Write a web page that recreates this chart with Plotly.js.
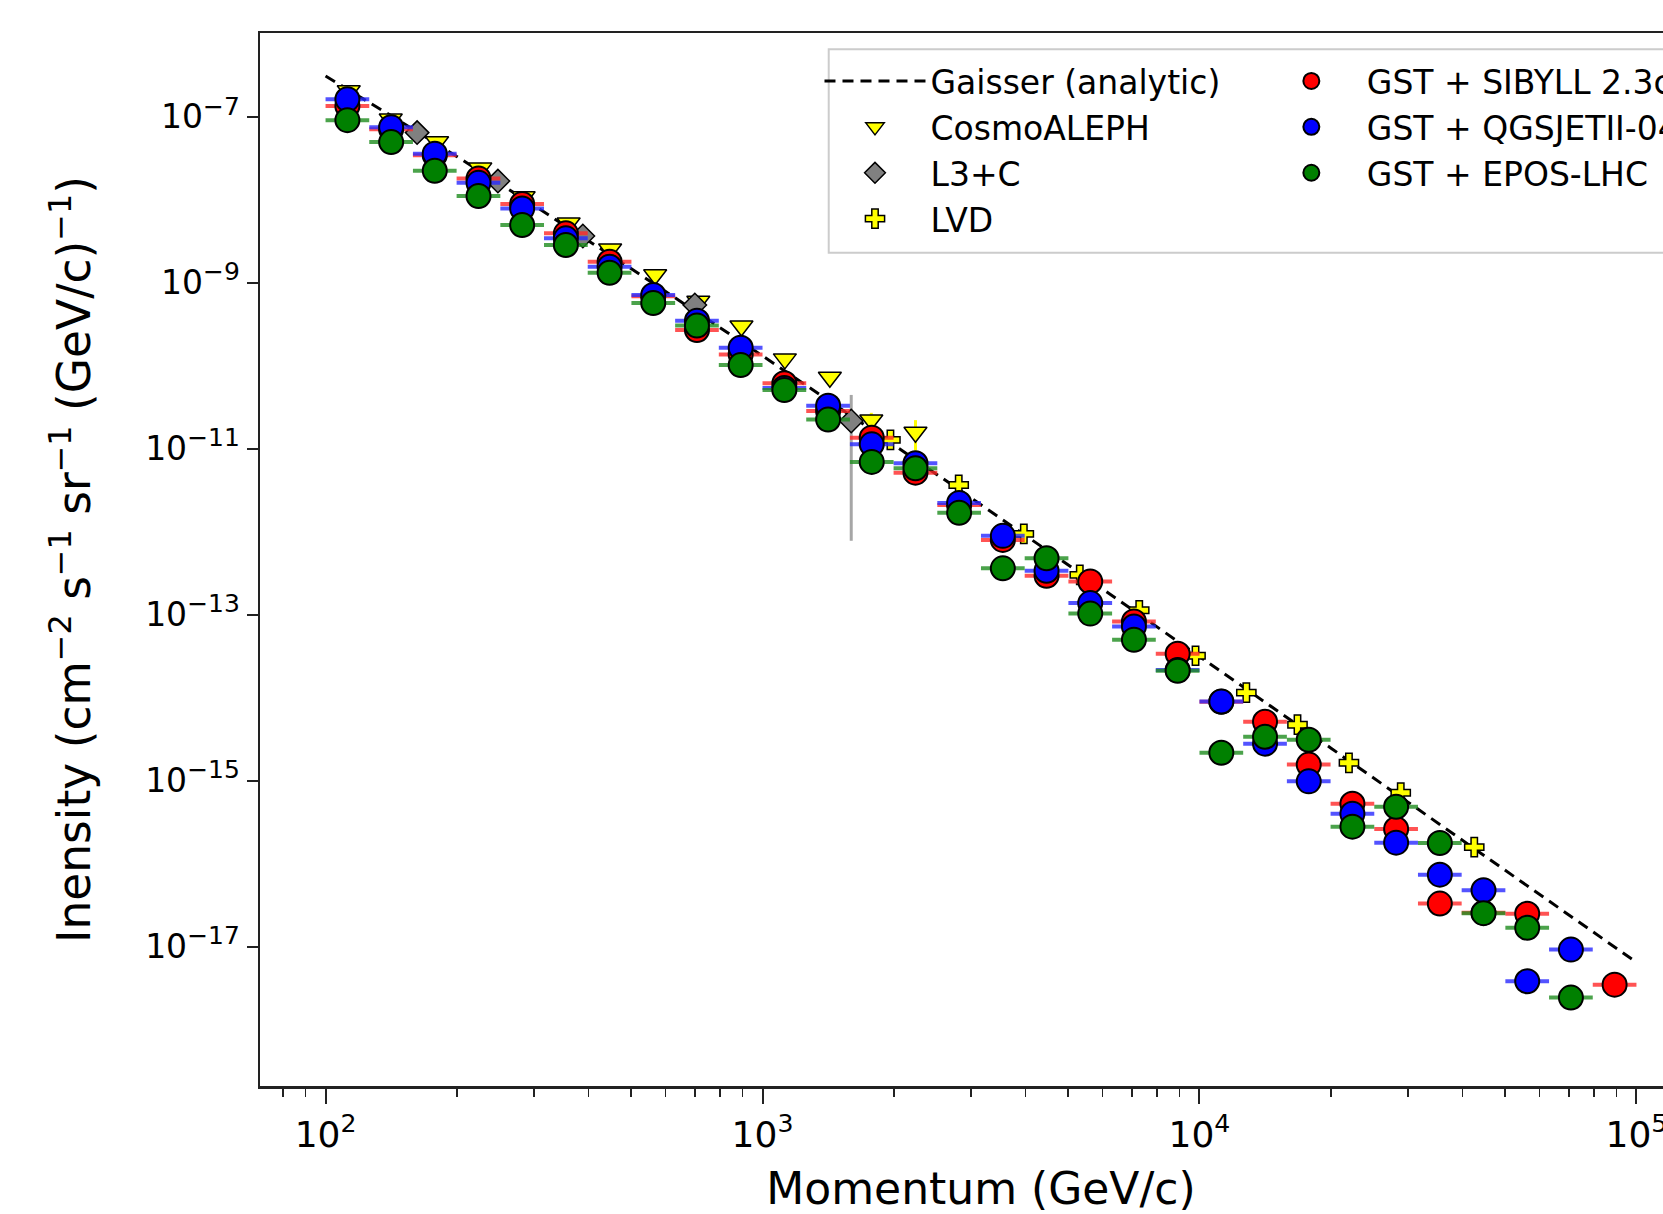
<!DOCTYPE html>
<html>
<head>
<meta charset="utf-8">
<script src="https://cdn.plot.ly/plotly-3.0.1.min.js"></script>
<style>
html,body{margin:0;padding:0;overflow:hidden;background:#ffffff;}
#plot{width:1720px;height:1214px;}
</style>
</head>
<body>
<div id="plot"></div>
<script>
// ---------------- data ----------------
// Gaisser analytic curve
const gaisserP = [100,150,200,300,500,700,1000,1500,2000,3000,5000,7000,10000,15000,20000,30000,50000,70000,100000];
const gaisserI = [3.1e-7,8.5e-8,3.31e-8,8.53e-9,1.485e-9,4.61e-10,1.314e-10,3.11e-11,1.108e-11,2.56e-12,3.99e-13,1.167e-13,3.155e-14,7.10e-15,2.46e-15,5.51e-16,8.37e-17,2.41e-17,6.46e-18];

// CosmoALEPH
const cosmoP = [113,141,180,226,284,360,448,568,713,895,1125,1426,1774,2239];
const cosmoI = [2.06e-7,9.4e-8,5.0e-8,2.41e-8,1.09e-8,5.25e-9,2.55e-9,1.25e-9,6.0e-10,3.01e-10,1.21e-10,7.26e-11,2.22e-11,1.58e-11];
const cosmoRelErr = [0.05,0.05,0.05,0.05,0.05,0.06,0.06,0.07,0.08,0.1,0.12,0.15,0.22,0.4];

// L3+C
const l3cP = [162,248,388,700,1596];
const l3cI = [6.45e-8,1.68e-8,3.66e-9,5.4e-10,2.16e-11];
const l3cRelErrUp = [0.05,0.05,0.06,0.08,1.06];
const l3cRelErrDown = [0.05,0.05,0.06,0.08,0.964];

// LVD
const lvdP = [1962,2812,3963,5322,7280,9794,12800,16760,21980,28880,42540];
const lvdI = [1.28e-11,3.66e-12,9.42e-13,3.02e-13,1.13e-13,3.2e-14,1.15e-14,4.72e-15,1.64e-15,7.16e-16,1.58e-16];
const lvdRelErr = [0.04,0.04,0.05,0.05,0.06,0.06,0.07,0.08,0.1,0.12,0.15];

// GST simulations: momentum bins
const gstBinEdges = [100,125.9,158.5,199.5,251.2,316.2,398.1,501.2,631.0,794.3,1000,1259,1585,1995,2512,3162,3981,5012,6310,7943,10000,12589,15849,19953,25119,31623,39811,50119,63096,79433,100000];
const gstP = [112.2,141.3,177.8,223.9,281.8,354.8,446.7,562.3,707.9,891.3,1122,1413,1778,2239,2818,3548,4467,5623,7079,8913,11220,14125,17783,22387,28184,35481,44668,56234,70795,89125];
const sibyllI = [1.35e-7,7.1e-8,3.45e-8,1.81e-8,8.89e-9,3.94e-9,1.79e-9,6.9e-10,2.70e-10,1.37e-10,6.15e-11,2.85e-11,1.36e-11,5.15e-12,2.1e-12,7.97e-13,2.94e-13,2.51e-13,8.28e-14,3.38e-14,8.9e-15,5.13e-15,1.56e-15,5.27e-16,2.62e-16,3.30e-17,2.55e-17,2.49e-17,null,3.48e-18];
const qgsjetI = [1.63e-7,7.5e-8,3.6e-8,1.60e-8,7.84e-9,3.43e-9,1.56e-9,7.12e-10,3.49e-10,1.65e-10,5.4e-11,3.30e-11,1.13e-11,6.70e-12,2.22e-12,8.91e-13,3.38e-13,1.38e-13,7.21e-14,2.15e-14,9.0e-15,2.79e-15,9.8e-16,4.0e-16,1.79e-16,7.36e-17,4.77e-17,3.82e-18,9.2e-18,null];
const eposI = [9.12e-8,4.96e-8,2.24e-8,1.11e-8,4.97e-9,2.85e-9,1.32e-9,5.70e-10,3.05e-10,1.02e-10,5.11e-11,2.25e-11,6.94e-12,5.82e-12,1.69e-12,3.62e-13,4.78e-13,1.03e-13,4.98e-14,2.11e-14,2.17e-15,3.38e-15,3.11e-15,2.79e-16,4.85e-16,1.77e-16,2.53e-17,1.69e-17,2.43e-18,null];

// tick labels
const xTickVals = [100,1000,10000,100000];
const xTickText = ['10<sup>2</sup>','10<sup>3</sup>','10<sup>4</sup>','10<sup>5</sup>'];
const xMinorVals = [80,90,200,300,400,500,600,700,800,900,2000,3000,4000,5000,6000,7000,8000,9000,20000,30000,40000,50000,60000,70000,80000,90000];
const yTickVals = [1e-7,1e-9,1e-11,1e-13,1e-15,1e-17];
const yExponents = ['−7','−9','−11','−13','−15','−17'];

// ---------------- build traces ----------------
const FONT = 'DejaVu Sans, Verdana, sans-serif';
const binPlus = gstP.map((p,i)=>gstBinEdges[i+1]-p);
const binMinus = gstP.map((p,i)=>p-gstBinEdges[i]);
const yTickText = yExponents.map(e=>'10<sup><span style="font-size:25px">'+e+'</span></sup>');

function gstTrace(name, yvals, color, barColor, rank){
  return {
    type:'scatter', mode:'markers', name:name, legend:'legend2', legendrank:rank,
    x:gstP, y:yvals,
    error_x:{type:'data', symmetric:false, array:binPlus, arrayminus:binMinus,
             color:barColor, thickness:4, width:0},
    marker:{symbol:'circle', size:24, color:color, line:{color:'#000000', width:2}}
  };
}

const traces = [
  {type:'scatter', mode:'lines', name:'Gaisser (analytic)', legend:'legend', legendrank:1,
   x:gaisserP, y:gaisserI,
   line:{color:'#000000', width:3, dash:'11px,7px'}},
  {type:'scatter', mode:'markers', name:'CosmoALEPH', legend:'legend', legendrank:2,
   x:cosmoP, y:cosmoI,
   error_y:{type:'data', array:cosmoI.map((v,i)=>v*cosmoRelErr[i]), color:'#ffff00', thickness:3, width:0},
   marker:{symbol:'triangle-down', size:20, color:'#ffff00', line:{color:'#000000', width:1.5}}},
  {type:'scatter', mode:'markers', name:'L3+C', legend:'legend', legendrank:3,
   x:l3cP, y:l3cI,
   error_y:{type:'data', symmetric:false,
            array:l3cI.map((v,i)=>v*l3cRelErrUp[i]),
            arrayminus:l3cI.map((v,i)=>v*l3cRelErrDown[i]),
            color:'#a6a6a6', thickness:3, width:0},
   marker:{symbol:'diamond', size:18, color:'#808080', line:{color:'#000000', width:1.5}}},
  {type:'scatter', mode:'markers', name:'LVD', legend:'legend', legendrank:4,
   x:lvdP, y:lvdI,
   error_y:{type:'data', array:lvdI.map((v,i)=>v*lvdRelErr[i]), color:'#ffff00', thickness:3, width:0},
   marker:{symbol:'cross', size:16, color:'#ffff00', line:{color:'#000000', width:1.5}}},
  gstTrace('GST + SIBYLL 2.3c', sibyllI, '#ff0000', 'rgba(255,40,40,0.8)', 1),
  gstTrace('GST + QGSJETII-04', qgsjetI, '#0000ff', 'rgba(40,40,255,0.8)', 2),
  gstTrace('GST + EPOS-LHC', eposI, '#008000', 'rgba(30,140,30,0.8)', 3)
];

const legendCommon = {
  y:0.981, xanchor:'left', yanchor:'top', orientation:'v',
  itemwidth:101, itemsizing:'trace',
  bgcolor:'rgba(0,0,0,0)', borderwidth:0,
  font:{family:FONT, size:33, color:'#000000'},
  traceorder:'normal'
};

const layout = {
  width:1720, height:1214,
  margin:{l:260, r:18.4, t:33, b:128, pad:0},
  paper_bgcolor:'#ffffff', plot_bgcolor:'#ffffff',
  font:{family:FONT, color:'#000000', size:32},
  showlegend:true,
  legend:Object.assign({x:0.388}, legendCommon),
  legend2:Object.assign({x:0.6906}, legendCommon),
  shapes:[{type:'rect', xref:'paper', yref:'paper', x0:0.3944, x1:1.2, y0:0.7914, y1:0.9845,
           fillcolor:'rgba(255,255,255,0.9)', line:{color:'#cccccc', width:2}, layer:'above'}],
  xaxis:{
    type:'log', range:[1.85, 5.15],
    showline:true, mirror:true, linecolor:'#222222', linewidth:2.5,
    showgrid:false, zeroline:false,
    ticks:'outside', ticklen:15, tickwidth:2, tickcolor:'#222222',
    tickmode:'array', tickvals:xTickVals, ticktext:xTickText,
    tickfont:{family:FONT, size:36, color:'#000000'},
    minor:{tickmode:'array', tickvals:xMinorVals, ticks:'outside', ticklen:8, tickwidth:1.5, tickcolor:'#222222', showgrid:false},
    title:{text:'Momentum (GeV/c)', font:{family:FONT, size:44, color:'#000000'}, standoff:34},
    automargin:false
  },
  yaxis:{
    type:'log', range:[-18.68, -5.99],
    showline:true, mirror:true, linecolor:'#222222', linewidth:2.5,
    showgrid:false, zeroline:false,
    ticks:'outside', ticklen:11, tickwidth:2, tickcolor:'#222222',
    tickmode:'array', tickvals:yTickVals, ticktext:yTickText,
    tickfont:{family:FONT, size:33, color:'#000000'},
    title:{text:'Inensity (cm<sup>−2</sup> s<sup>−1</sup> sr<sup>−1</sup> (GeV/c)<sup>−1</sup>)', font:{family:FONT, size:45.5, color:'#000000'}, standoff:40},
    automargin:false
  }
};

Plotly.newPlot('plot', traces, layout, {staticPlot:true, displayModeBar:false});
</script>
</body>
</html>
